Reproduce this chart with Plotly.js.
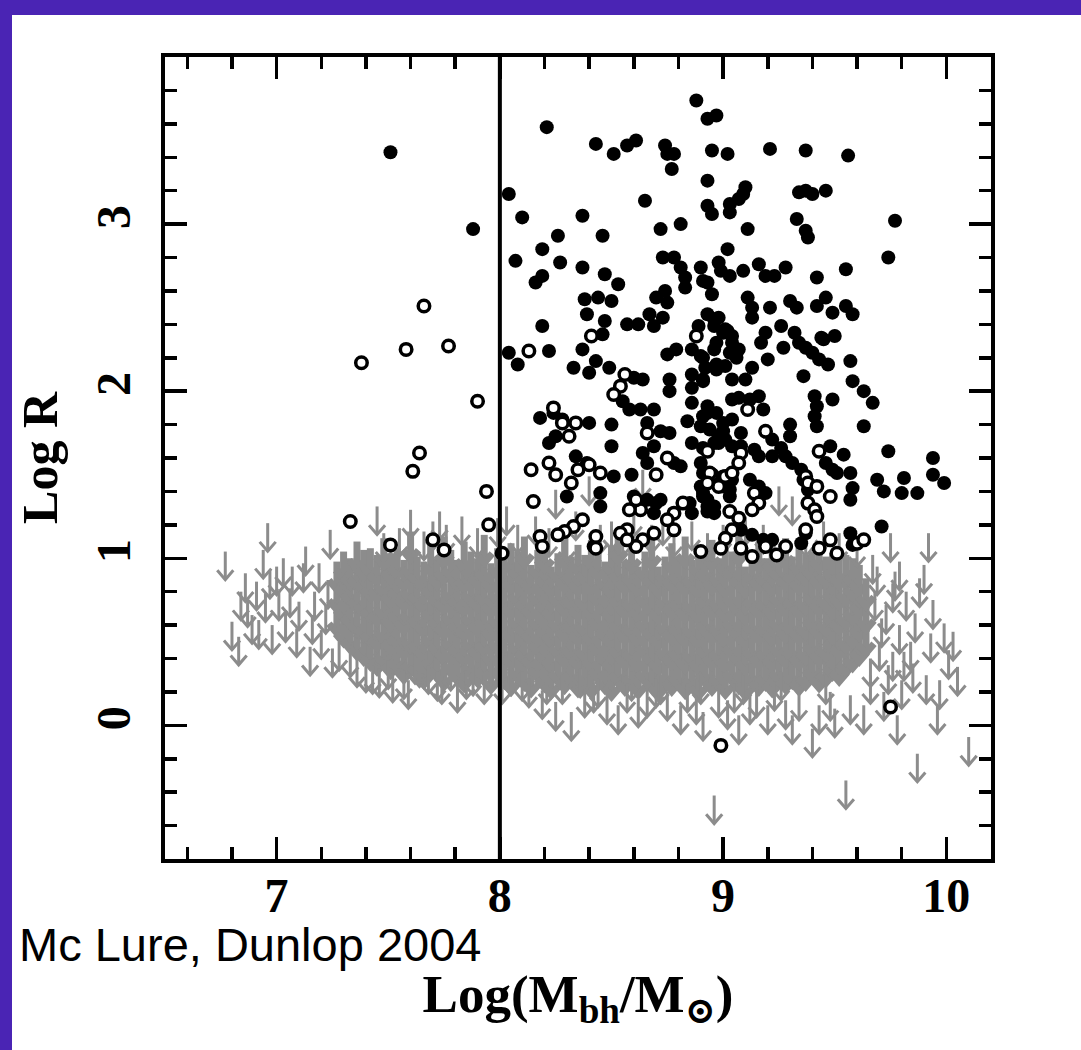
<!DOCTYPE html>
<html><head><meta charset="utf-8">
<script src="https://cdn.plot.ly/plotly-3.0.1.min.js"></script>
<style>
html,body{margin:0;padding:0;background:#4a24b4;width:1081px;height:1050px;overflow:hidden;}
#chart{position:absolute;left:12px;top:15px;width:1069px;height:1035px;background:#fff;}
</style></head><body><div id="chart"></div>
<script>
// ---- Filled circles (Log Mbh, Log R) ----
const filledX = [7.51,8.21,7.88,8.04,8.10,8.37,8.43,8.51,8.57,8.61,8.74,8.75,8.78,8.77,8.88,8.93,8.97,8.95,9.02,8.93,8.93,8.95,9.03,9.03,8.65,8.72,8.81,9.02,8.26,8.19,8.07,8.27,8.37,8.46,8.47,8.53,8.16,8.19,8.38,8.44,8.50,8.39,8.47,8.19,8.57,8.62,8.67,8.70,8.74,8.75,8.69,8.73,8.73,8.78,8.81,8.83,8.83,8.90,8.91,8.93,8.95,8.98,8.99,9.03,8.93,8.98,9.01,8.89,8.46,9.21,9.37,9.56,9.10,9.09,9.07,9.34,9.37,9.40,9.46,9.33,9.37,9.38,9.77,9.74,9.11,9.09,9.16,9.19,9.23,9.28,9.42,9.55,9.11,9.13,9.13,9.21,9.30,9.33,9.42,9.46,9.49,9.55,9.58,9.19,9.26,9.32,9.44,9.50,8.04,8.08,8.22,8.37,8.43,8.33,8.40,8.49,8.60,8.64,8.55,8.58,8.63,8.69,8.76,8.76,8.75,8.79,8.96,8.86,8.91,8.96,9.00,9.04,9.03,9.01,8.97,8.86,8.91,8.86,9.04,9.04,8.86,8.93,8.84,8.66,8.72,8.76,8.69,8.64,8.66,8.78,8.81,8.86,8.91,8.96,9.01,9.04,8.90,8.94,9.00,9.04,8.90,8.91,8.90,8.91,8.93,9.00,9.03,8.96,8.85,8.86,8.60,8.63,8.66,8.70,8.69,8.72,8.45,8.45,8.42,8.30,8.34,8.39,8.51,8.59,8.50,8.50,8.18,8.24,8.28,8.40,8.22,8.25,9.17,9.34,9.37,9.40,9.43,9.47,9.45,9.27,9.20,9.57,9.04,9.07,9.06,8.96,9.02,8.97,8.90,8.92,8.97,8.91,9.13,9.10,9.36,9.58,9.63,9.67,9.41,9.42,9.49,9.07,9.12,9.16,9.18,8.93,8.97,8.91,9.00,9.08,8.98,9.41,9.42,9.30,9.30,9.63,9.22,9.26,9.22,9.08,9.14,9.16,8.98,9.28,9.31,9.48,9.54,9.74,9.94,9.46,9.49,9.51,9.57,9.69,9.72,9.81,9.80,9.87,9.94,9.99,9.58,9.57,9.71,9.35,9.36,9.38,9.12,9.16,9.19,9.00,9.04,9.03,8.91,8.93,8.96,8.93,9.08,9.13,9.22,9.18,9.35,9.37,9.57,9.58];
const filledY = [3.43,3.58,2.97,3.18,3.04,3.05,3.48,3.42,3.47,3.50,3.47,3.42,3.42,3.33,3.74,3.63,3.65,3.44,3.42,3.26,3.11,3.06,3.12,3.07,3.14,2.97,3.00,2.85,2.93,2.85,2.78,2.77,2.74,2.93,2.70,2.64,2.65,2.69,2.55,2.56,2.54,2.46,2.42,2.39,2.40,2.40,2.46,2.56,2.60,2.53,2.39,2.44,2.80,2.80,2.74,2.68,2.62,2.74,2.66,2.65,2.58,2.77,2.72,2.69,2.46,2.44,2.37,2.39,2.34,3.45,3.44,3.41,3.22,3.18,3.15,3.19,3.20,3.18,3.20,3.03,2.96,2.92,3.02,2.80,2.97,2.72,2.76,2.69,2.69,2.74,2.68,2.73,2.56,2.50,2.44,2.50,2.54,2.50,2.51,2.56,2.47,2.51,2.46,2.35,2.39,2.35,2.32,2.33,2.23,2.16,2.24,2.25,2.18,2.14,2.11,2.14,2.08,2.07,1.94,1.89,1.89,1.89,2.07,2.00,2.22,2.25,2.43,2.25,2.20,2.25,2.35,2.33,2.23,2.15,2.13,2.10,2.07,2.02,2.07,1.95,1.93,1.87,1.82,1.81,1.76,1.75,1.67,1.63,1.57,1.57,1.55,1.69,1.66,1.69,1.71,1.67,1.79,1.77,1.76,1.83,1.57,1.51,1.43,1.37,1.31,1.43,1.37,1.27,1.33,1.27,1.37,1.33,1.35,1.33,1.27,1.35,1.39,1.31,1.07,1.37,1.61,1.57,1.49,1.50,1.67,1.80,1.84,1.87,1.83,1.81,1.69,1.73,2.29,2.29,2.26,2.23,2.19,2.16,2.31,2.26,2.19,2.18,2.29,2.25,2.20,2.39,2.36,2.29,2.21,2.14,2.16,2.06,2.14,2.07,2.09,2.06,2.00,1.93,1.97,1.91,1.95,1.96,1.95,1.97,1.89,1.91,1.87,1.85,1.81,1.75,1.73,1.85,1.79,1.80,1.73,1.79,1.71,1.66,1.61,1.67,1.65,1.61,1.69,1.61,1.57,1.67,1.62,1.64,1.60,1.57,1.53,1.51,1.51,1.47,1.40,1.48,1.39,1.39,1.50,1.45,1.42,1.35,1.19,1.53,1.47,1.41,1.47,1.43,1.39,1.49,1.47,1.41,1.39,1.35,1.31,1.28,1.17,1.14,1.11,1.11,1.09,1.15,1.15,1.08];

// ---- Open circles ----
const openX = [7.66,7.77,7.38,7.58,7.64,7.61,7.33,7.51,7.70,7.75,7.90,7.94,7.95,8.01,8.13,8.41,8.88,8.56,8.54,8.51,8.66,8.70,8.75,8.93,8.95,8.98,9.01,9.04,9.03,8.82,8.78,8.75,8.78,8.69,8.64,8.61,8.57,8.54,8.57,8.63,8.61,8.58,8.43,8.43,8.37,8.33,8.29,8.26,8.18,8.19,8.15,8.14,8.22,8.25,8.32,8.35,8.40,8.45,8.24,8.28,8.34,8.31,9.11,9.19,9.08,9.07,9.43,9.37,9.38,9.42,9.48,9.38,9.41,9.42,9.14,9.16,9.13,8.94,8.93,9.07,9.04,9.01,8.99,8.90,9.08,9.13,9.19,9.24,9.28,9.37,9.43,9.48,9.51,9.60,9.63,8.99,9.75];
const openY = [2.51,2.27,2.17,2.25,1.63,1.52,1.22,1.08,1.11,1.05,1.94,1.40,1.20,1.03,2.24,2.33,2.33,2.10,2.03,1.98,1.75,1.50,1.60,1.64,1.50,1.43,1.49,1.51,1.28,1.33,1.27,1.23,1.17,1.15,1.11,1.07,1.17,1.15,1.11,1.29,1.35,1.29,1.13,1.06,1.23,1.19,1.16,1.14,1.13,1.07,1.34,1.53,1.57,1.50,1.45,1.53,1.56,1.51,1.90,1.81,1.81,1.73,1.89,1.76,1.63,1.57,1.64,1.49,1.45,1.43,1.37,1.33,1.29,1.25,1.39,1.33,1.29,1.51,1.45,1.24,1.17,1.12,1.06,1.04,1.06,1.01,1.07,1.02,1.07,1.17,1.06,1.11,1.03,1.09,1.11,-0.12,0.11];

// ---- Upper limits (arrow tops), dense core: one column per x ----
const limCoreX = [7.27,7.30,7.33,7.36,7.39,7.42,7.45,7.48,7.51,7.54,7.57,7.60,7.63,7.66,7.69,7.72,7.75,7.78,7.81,7.84,7.87,7.90,7.93,7.96,7.99,8.02,8.05,8.08,8.11,8.14,8.17,8.20,8.23,8.26,8.29,8.32,8.35,8.38,8.41,8.44,8.47,8.50,8.53,8.56,8.59,8.62,8.65,8.68,8.71,8.74,8.77,8.80,8.83,8.86,8.89,8.92,8.95,8.98,9.01,9.04,9.07,9.10,9.13,9.16,9.19,9.22,9.25,9.28,9.31,9.34,9.37,9.40,9.43,9.46,9.49,9.52,9.55,9.58,9.61,9.64];
const limCoreTops = [
[.72,.86,.98],[.66,.80,.94,1.04],[.62,.76,.90,1.00],[.58,.72,.86,.99,1.10],[.55,.69,.83,.96,1.05],
[.52,.66,.80,.93,1.06],[.49,.63,.78,.92,1.02],[.53,.67,.81,.95,1.12],[.47,.61,.75,.89,1.03],[.50,.64,.78,.92,1.06],
[.44,.58,.73,.87,.99],[.48,.62,.77,.91,1.05,1.16],[.46,.60,.75,.89,1.01],[.41,.56,.71,.85,.98],[.50,.64,.79,.93,1.08],
[.45,.59,.74,.88,1.00],[.40,.55,.70,.85,1.03,1.13],[.48,.62,.77,.91,1.05],[.43,.58,.72,.87,.99],[.39,.54,.69,.84,.98,1.10],
[.47,.61,.76,.90,1.04],[.42,.57,.72,.86,1.00],[.45,.60,.74,.89,1.03,1.14],[.38,.53,.68,.83,.97],[.46,.61,.75,.90,1.06],
[.41,.56,.71,.86,1.01],[.37,.52,.67,.82,.97,1.09],[.44,.59,.74,.89,1.04],[.40,.55,.70,.85,1.00,1.13],[.36,.51,.66,.81,.96],
[.45,.60,.74,.89,1.05],[.39,.54,.69,.84,.99,1.10],[.35,.50,.65,.80,.95],[.43,.58,.73,.88,1.03],[.38,.53,.68,.83,.98,1.12],
[.42,.57,.72,.87,1.01],[.36,.51,.66,.81,.96,1.08],[.41,.56,.71,.86,1.02],[.35,.50,.65,.80,.96,1.11],[.44,.59,.74,.89,1.05],
[.38,.53,.68,.83,.98],[.34,.49,.64,.79,.94,1.07],[.42,.57,.72,.87,1.02,1.15],[.37,.52,.67,.82,.97],[.40,.55,.70,.85,1.00,1.10],
[.35,.50,.65,.80,.95],[.43,.58,.73,.88,1.04],[.38,.53,.68,.83,.99,1.12],[.34,.49,.64,.79,.95],[.41,.56,.71,.86,1.01],
[.37,.52,.67,.82,.98,1.09],[.40,.55,.70,.85,1.01],[.35,.50,.65,.80,.96,1.13],[.39,.54,.69,.84,.99],[.34,.49,.64,.79,.94,1.06],
[.42,.57,.72,.87,1.03],[.37,.52,.67,.82,.97,1.11],[.40,.55,.70,.85,1.00],[.35,.50,.65,.80,.95,1.07],[.43,.58,.73,.88,1.04],
[.38,.53,.68,.83,.99,1.14],[.34,.49,.64,.79,.95],[.41,.56,.71,.86,1.02],[.37,.52,.67,.82,.98,1.10],[.40,.55,.70,.85,1.00],
[.36,.51,.66,.81,.96,1.08],[.43,.58,.73,.88,1.03],[.38,.53,.68,.83,.99,1.12],[.41,.56,.71,.86,1.01],[.37,.52,.67,.82,.97,1.07],
[.40,.55,.70,.85,1.02],[.44,.59,.74,.89,1.04],[.39,.54,.69,.84,.99,1.10],[.42,.57,.72,.87,1.01],[.46,.61,.76,.90,1.03],
[.43,.58,.73,.88,1.00],[.48,.62,.76,.90,1.02],[.51,.65,.79,.93,1.00],[.55,.69,.83,.96],[.60,.74,.88]
];

// ---- Upper limits (arrow tops), fringe / isolated ----
const limEdgeX = [6.77,6.80,6.83,6.84,6.86,6.87,6.89,6.91,6.92,6.94,6.95,6.96,6.97,6.98,7.00,7.01,7.03,7.04,7.06,7.07,7.09,7.10,7.12,7.13,7.15,7.16,7.17,7.19,7.20,7.22,7.23,7.24,7.25,
7.28,7.33,7.36,7.40,
7.43,7.45,7.46,7.48,7.50,7.52,7.55,7.57,7.59,7.60,7.62,7.64,7.66,7.68,7.70,7.72,7.73,7.74,7.76,7.78,7.81,7.83,7.85,7.88,7.90,7.93,7.96,7.99,8.01,8.03,8.05,8.08,8.10,8.13,8.16,8.19,8.21,8.22,8.25,8.25,8.28,8.30,8.32,8.34,8.36,8.38,8.40,8.42,8.44,8.45,8.48,8.50,8.53,8.55,8.57,8.59,8.60,8.62,8.64,8.66,8.68,8.70,8.72,8.73,8.75,8.78,8.81,8.84,8.86,8.88,8.90,8.91,8.93,8.96,8.98,9.00,9.02,9.05,9.07,9.09,9.10,9.12,9.15,9.18,9.20,9.23,9.25,9.26,9.28,9.31,9.31,9.34,9.37,9.40,9.43,9.45,9.46,9.48,9.50,9.52,9.55,9.57,9.60,9.63,
9.66,9.66,9.67,9.68,9.69,9.70,9.71,9.72,9.73,9.74,9.75,9.76,9.76,9.77,9.78,9.79,9.79,9.80,9.81,9.82,9.84,9.85,9.86,9.87,9.88,9.90,9.91,9.92,9.93,9.94,9.96,9.97,9.99,10.01,10.03,10.05,10.10];
const limEdgeY = [1.04,0.62,0.53,0.80,0.91,0.76,0.66,0.86,0.63,1.05,0.79,1.21,0.93,0.60,0.95,0.80,1.00,0.67,0.82,0.95,0.58,0.74,0.97,1.07,0.47,0.66,0.80,0.97,0.57,0.72,0.87,1.17,0.46,
0.50,0.46,0.40,0.37,
0.36,1.31,0.34,1.15,0.39,0.31,1.18,0.33,0.27,1.29,0.42,0.40,1.16,0.36,1.22,0.32,1.28,0.30,1.20,0.38,0.25,1.25,0.33,0.35,1.18,0.30,0.38,1.24,0.30,1.31,0.35,1.20,0.32,0.28,1.25,0.21,0.30,1.18,0.14,1.41,0.30,1.15,0.08,1.28,0.34,0.22,1.49,0.25,0.28,1.20,0.18,1.22,0.12,1.18,0.25,0.32,1.30,0.16,1.53,0.22,1.20,0.28,0.30,1.25,0.20,1.18,0.12,0.25,1.22,0.18,0.30,0.08,1.15,-0.42,0.22,1.20,0.15,0.25,0.06,0.30,1.25,0.18,0.22,1.20,0.12,0.26,1.43,0.32,0.15,0.06,1.37,0.20,1.18,-0.02,0.12,1.22,0.30,0.20,0.10,1.15,-0.33,0.18,1.12,0.12,
0.40,0.30,1.02,0.80,0.95,0.50,0.64,0.20,0.72,0.36,1.15,0.44,0.85,0.92,0.06,0.60,0.98,0.27,0.44,0.80,0.50,0.37,0.67,-0.17,0.88,0.96,0.30,1.15,0.55,0.75,0.12,0.27,0.61,0.45,0.56,0.35,-0.07];

// ---- Axis ticks ----
const xTickVals = [7, 8, 9, 10];
const yTickVals = [0, 1, 2, 3];
const dividerX = 8;

// arrow geometry (length / head in data units)
const ARROW_LEN = 0.168, HEAD_HW = 0.036, HEAD_H = 0.056;
function arrows(xs, tops) {
  const X = [], Y = [];
  for (let i = 0; i < xs.length; i++) {
    const x = xs[i], t = tops[i], b = t - ARROW_LEN;
    X.push(x, x, null, x - HEAD_HW, x, x + HEAD_HW, null);
    Y.push(t, b, null, b + HEAD_H, b, b + HEAD_H, null);
  }
  return {X, Y};
}
const coreXs = [], coreTs = [];
limCoreX.forEach((x, i) => limCoreTops[i].forEach(t => { coreXs.push(x); coreTs.push(t); }));
const core = arrows(coreXs, coreTs);
const edge = arrows(limEdgeX, limEdgeY);

const GRAY = '#8c8c8c';
const serif = 'Liberation Serif, DejaVu Serif, serif';

const traces = [
  {type:'scatter', mode:'lines', x:core.X, y:core.Y, line:{color:GRAY, width:7}, hoverinfo:'skip', showlegend:false},
  {type:'scatter', mode:'lines', x:edge.X, y:edge.Y, line:{color:GRAY, width:3}, hoverinfo:'skip', showlegend:false},
  {type:'scatter', mode:'markers', x:filledX, y:filledY, marker:{color:'#000', size:14, line:{width:0}}, hoverinfo:'x+y', showlegend:false},
  {type:'scatter', mode:'markers', x:openX, y:openY, marker:{color:'#fff', size:11.5, line:{color:'#000', width:3.5}}, hoverinfo:'x+y', showlegend:false}
];

const axisCommon = {
  ticks:'inside', ticklen:22, tickwidth:3.5, tickcolor:'#000',
  showline:true, linewidth:4, linecolor:'#000', mirror:'ticks',
  showgrid:false, zeroline:false,
  tickfont:{family:serif, size:48, color:'#000', weight:'bold'}
};

const layout = {
  width:1069, height:1035,
  margin:{l:153, r:90, t:42, b:191},
  paper_bgcolor:'#fff', plot_bgcolor:'#fff',
  showlegend:false,
  xaxis: Object.assign({}, axisCommon, {
    range:[6.5, 10.2], tickmode:'array', tickvals:xTickVals,
    minor:{tick0:0, dtick:0.2, ticks:'inside', ticklen:12, tickwidth:3.5, tickcolor:'#000', showgrid:false},
    ticklabelstandoff:-9,
    title:{text:'Log(M<sub>bh</sub>/M<sub>⊙</sub>)', font:{family:serif, size:53, color:'#000', weight:'bold'}, standoff:55}
  }),
  yaxis: Object.assign({}, axisCommon, {
    range:[-0.8, 4.0], tickmode:'array', tickvals:yTickVals, tickangle:-90,
    minor:{tick0:0, dtick:0.2, ticks:'inside', ticklen:12, tickwidth:3.5, tickcolor:'#000', showgrid:false},
    ticklabelstandoff:12,
    title:{text:'Log R', font:{family:serif, size:50, color:'#000', weight:'bold'}, standoff:24}
  }),
  shapes:[{type:'line', xref:'x', yref:'paper', x0:dividerX, x1:dividerX, y0:0, y1:1, line:{color:'#000', width:4}}],
  annotations:[{
    text:'Mc Lure, Dunlop 2004', xref:'paper', yref:'paper', x:-0.179, y:-0.107,
    xanchor:'left', yanchor:'middle', showarrow:false,
    font:{family:'Liberation Sans, Arial, sans-serif', size:47, color:'#000'}
  }]
};

Plotly.newPlot('chart', traces, layout, {displayModeBar:false, staticPlot:true});
</script></body></html>
